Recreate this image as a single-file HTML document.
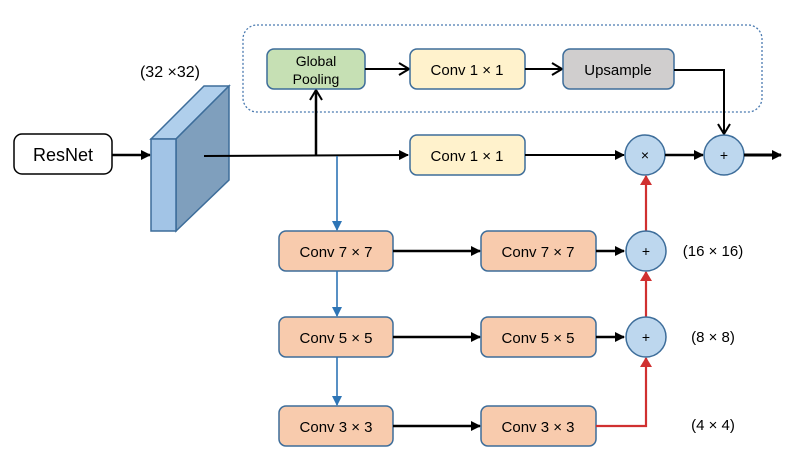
<!DOCTYPE html>
<html><head><meta charset="utf-8"><style>
html,body{margin:0;padding:0;background:#fff;}
svg{display:block;}
text{font-family:"Liberation Sans","Noto Sans CJK SC",sans-serif;}
</style></head><body>
<svg width="797" height="465" viewBox="0 0 797 465" xmlns="http://www.w3.org/2000/svg">
<defs>
<marker id="ab" markerWidth="10" markerHeight="10" refX="9" refY="5" orient="auto" markerUnits="userSpaceOnUse"><path d="M0,0 L10,5 L0,10 z" fill="#000"/></marker>
<marker id="ao" markerWidth="12" markerHeight="14" refX="11" refY="7" orient="auto" markerUnits="userSpaceOnUse"><path d="M1,1 L11,7 L1,13" fill="none" stroke="#000" stroke-width="2"/></marker>
<marker id="abl" markerWidth="10" markerHeight="10" refX="9" refY="5" orient="auto" markerUnits="userSpaceOnUse"><path d="M0,0 L10,5 L0,10 z" fill="#2e75b6"/></marker>
<marker id="ar" markerWidth="10" markerHeight="12" refX="9" refY="6" orient="auto" markerUnits="userSpaceOnUse"><path d="M0,0 L10,6 L0,12 z" fill="#d03030"/></marker>
</defs>
<rect x="243" y="25" width="519" height="87" rx="14" fill="none" stroke="#4a7ab0" stroke-width="1.3" stroke-dasharray="2,2"/>
<rect x="14" y="134" width="98" height="40" rx="8" fill="#fff" stroke="#000" stroke-width="1.5"/>
<text x="63" y="161" font-size="18" text-anchor="middle">ResNet</text>
<line x1="112" y1="155" x2="150" y2="155" stroke="#000" stroke-width="2.5" marker-end="url(#ab)"/>
<polygon points="151,139 176,139 229,86 204,86" fill="#b0cfec" stroke="#3d6d9a" stroke-width="1.5"/>
<polygon points="176,139 229,86 229,180 176,231" fill="#7f9fbd" stroke="#3d6d9a" stroke-width="1.5"/>
<rect x="151" y="139" width="25" height="92" fill="#a2c4e6" stroke="#3d6d9a" stroke-width="1.5"/>
<text x="170" y="77" font-size="16" text-anchor="middle">(32 ×32)</text>
<line x1="204" y1="156" x2="408" y2="155" stroke="#000" stroke-width="2" marker-end="url(#ab)"/>
<line x1="316" y1="156" x2="316" y2="90" stroke="#000" stroke-width="2.5" marker-end="url(#ao)"/>
<line x1="337" y1="156" x2="337" y2="230" stroke="#2e75b6" stroke-width="1.6" marker-end="url(#abl)"/>
<rect x="267" y="49" width="98" height="40" rx="7" fill="#c6e0b4" stroke="#3d6d9a" stroke-width="1.5"/>
<text x="316" y="66" font-size="14" text-anchor="middle">Global</text>
<text x="316" y="84" font-size="14" text-anchor="middle">Pooling</text>
<line x1="365" y1="69" x2="409" y2="69" stroke="#000" stroke-width="2" marker-end="url(#ao)"/>
<rect x="410" y="49" width="115" height="40" rx="7" fill="#fff2cc" stroke="#3d6d9a" stroke-width="1.5"/>
<text x="467" y="75" font-size="15" text-anchor="middle">Conv 1 × 1</text>
<line x1="525" y1="69" x2="562" y2="69" stroke="#000" stroke-width="2" marker-end="url(#ao)"/>
<rect x="563" y="49" width="111" height="40" rx="7" fill="#d0cece" stroke="#3d6d9a" stroke-width="1.5"/>
<text x="618" y="75" font-size="15" text-anchor="middle">Upsample</text>
<polyline points="674,70 724,70 724,134" fill="none" stroke="#000" stroke-width="2" marker-end="url(#ao)"/>
<rect x="410" y="135" width="115" height="40" rx="7" fill="#fff2cc" stroke="#3d6d9a" stroke-width="1.5"/>
<text x="467" y="161" font-size="15" text-anchor="middle">Conv 1 × 1</text>
<line x1="525" y1="155" x2="624" y2="155" stroke="#000" stroke-width="2" marker-end="url(#ab)"/>
<circle cx="645" cy="155" r="20" fill="#bdd7ee" stroke="#3d6d9a" stroke-width="1.5"/>
<text x="645" y="160" font-size="14" text-anchor="middle">×</text>
<line x1="665" y1="155" x2="703" y2="155" stroke="#000" stroke-width="2.5" marker-end="url(#ab)"/>
<circle cx="724" cy="155" r="20" fill="#bdd7ee" stroke="#3d6d9a" stroke-width="1.5"/>
<text x="724" y="160" font-size="14" text-anchor="middle">+</text>
<line x1="744" y1="155" x2="781" y2="155" stroke="#000" stroke-width="3" marker-end="url(#ab)"/>
<g font-size="15" text-anchor="middle">
<rect x="279" y="231" width="114" height="40" rx="7" fill="#f8cbad" stroke="#3d6d9a" stroke-width="1.5"/>
<text x="336" y="257">Conv 7 × 7</text>
<rect x="481" y="231" width="115" height="40" rx="7" fill="#f8cbad" stroke="#3d6d9a" stroke-width="1.5"/>
<text x="538" y="257">Conv 7 × 7</text>
<rect x="279" y="317" width="114" height="40" rx="7" fill="#f8cbad" stroke="#3d6d9a" stroke-width="1.5"/>
<text x="336" y="343">Conv 5 × 5</text>
<rect x="481" y="317" width="115" height="40" rx="7" fill="#f8cbad" stroke="#3d6d9a" stroke-width="1.5"/>
<text x="538" y="343">Conv 5 × 5</text>
<rect x="279" y="406" width="114" height="40" rx="7" fill="#f8cbad" stroke="#3d6d9a" stroke-width="1.5"/>
<text x="336" y="432">Conv 3 × 3</text>
<rect x="481" y="406" width="115" height="40" rx="7" fill="#f8cbad" stroke="#3d6d9a" stroke-width="1.5"/>
<text x="538" y="432">Conv 3 × 3</text>
</g>
<line x1="337" y1="271" x2="337" y2="316" stroke="#2e75b6" stroke-width="1.6" marker-end="url(#abl)"/>
<line x1="337" y1="357" x2="337" y2="405" stroke="#2e75b6" stroke-width="1.6" marker-end="url(#abl)"/>
<line x1="393" y1="251" x2="480" y2="251" stroke="#000" stroke-width="2.5" marker-end="url(#ab)"/>
<line x1="393" y1="337" x2="480" y2="337" stroke="#000" stroke-width="2.5" marker-end="url(#ab)"/>
<line x1="393" y1="426" x2="480" y2="426" stroke="#000" stroke-width="2.5" marker-end="url(#ab)"/>
<line x1="596" y1="251" x2="624" y2="251" stroke="#000" stroke-width="2.5" marker-end="url(#ab)"/>
<line x1="596" y1="337" x2="624" y2="337" stroke="#000" stroke-width="2.5" marker-end="url(#ab)"/>
<polyline points="596,426 646,426 646,358" fill="none" stroke="#d03030" stroke-width="2.2" marker-end="url(#ar)"/>
<line x1="646" y1="317" x2="646" y2="272" stroke="#d03030" stroke-width="2.2" marker-end="url(#ar)"/>
<line x1="646" y1="231" x2="646" y2="176" stroke="#d03030" stroke-width="2.2" marker-end="url(#ar)"/>
<circle cx="646" cy="251" r="20" fill="#bdd7ee" stroke="#3d6d9a" stroke-width="1.5"/>
<text x="646" y="256" font-size="14" text-anchor="middle">+</text>
<circle cx="646" cy="337" r="20" fill="#bdd7ee" stroke="#3d6d9a" stroke-width="1.5"/>
<text x="646" y="342" font-size="14" text-anchor="middle">+</text>
<g font-size="15" text-anchor="middle">
<text x="713" y="256">(16 × 16)</text>
<text x="713" y="342">(8 × 8)</text>
<text x="713" y="430">(4 × 4)</text>
</g>
</svg>
</body></html>
